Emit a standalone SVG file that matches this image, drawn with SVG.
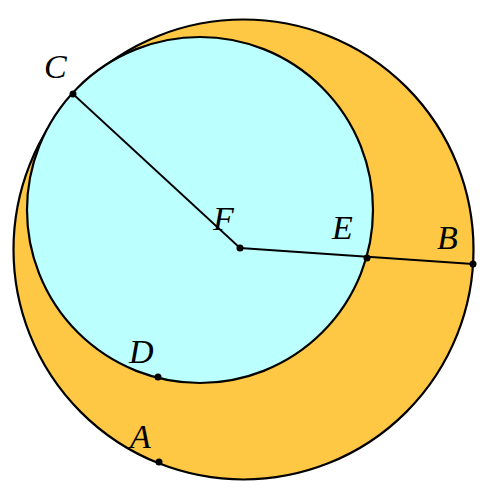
<svg xmlns="http://www.w3.org/2000/svg" width="488" height="494" viewBox="0 0 488 494">
<style>
.lbl{font-family:"Liberation Serif","DejaVu Serif",serif;font-style:italic;font-size:34px;fill:#000}
.ln{stroke:#000;stroke-width:1.8;fill:none}
.pt{fill:#000}
</style>
<rect width="488" height="494" fill="#fff"/>
<g id="outer"><circle cx="243.5" cy="249.5" r="230" fill="#FFC844" stroke="#000" stroke-width="2.2"/></g>
<g id="inner"><circle cx="200" cy="210" r="173" fill="#BBFFFF" stroke="#000" stroke-width="2.2"/></g>
<g id="connectors">
<line class="ln" x1="73" y1="94" x2="240" y2="248"/>
<line class="ln" x1="240" y1="248" x2="473" y2="264"/>
</g>
<g id="C"><circle class="pt" cx="73" cy="94" r="3.5"/><text class="lbl" x="44" y="78">C</text></g>
<g id="F"><circle class="pt" cx="240" cy="248" r="3.5"/><text class="lbl" x="213" y="230">F</text></g>
<g id="E"><circle class="pt" cx="367" cy="258" r="3.5"/><text class="lbl" x="332" y="239">E</text></g>
<g id="B"><circle class="pt" cx="473" cy="264" r="3.5"/><text class="lbl" x="437" y="249">B</text></g>
<g id="D"><circle class="pt" cx="158" cy="377" r="3.5"/><text class="lbl" x="129" y="363">D</text></g>
<g id="A"><circle class="pt" cx="159" cy="462" r="3.5"/><text class="lbl" x="130" y="448">A</text></g>
</svg>
